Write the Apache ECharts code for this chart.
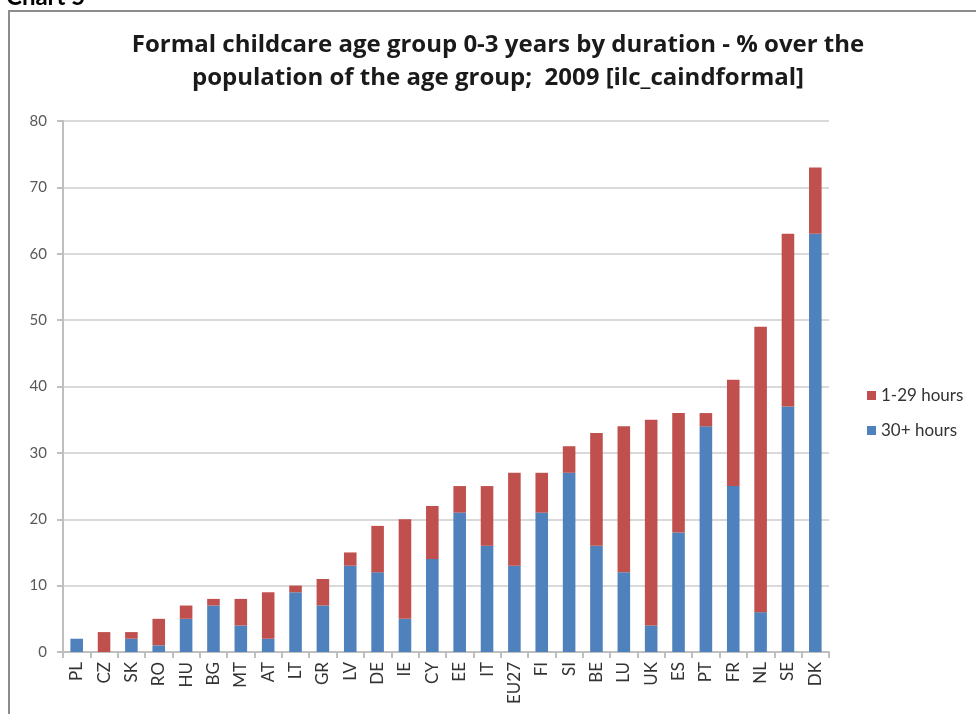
<!DOCTYPE html>
<html><head><meta charset="utf-8">
<script src="https://cdn.jsdelivr.net/npm/echarts@6/dist/echarts.min.js"></script>
<style>html,body{margin:0;padding:0;background:#fff}#c{width:976px;height:714px}</style>
</head><body><div id="c"></div>
<script>
var categories = ['PL','CZ','SK','RO','HU','BG','MT','AT','LT','GR','LV','DE','IE','CY','EE','IT','EU27','FI','SI','BE','LU','UK','ES','PT','FR','NL','SE','DK'];
var hours30plus = [2,0,2,1,5,7,4,2,9,7,13,12,5,14,21,16,13,21,27,16,12,4,18,34,25,6,37,63];
var hours1to29 = [0,3,1,4,2,1,4,7,1,4,2,7,15,8,4,9,14,6,4,17,22,31,18,2,16,43,26,10];
var yTicks = [0,10,20,30,40,50,60,70,80];

var chart = echarts.init(document.getElementById('c'));
var font = 'Lato, "Open Sans", sans-serif';
chart.setOption({
  animation:false,
  graphic:[
    {type:'rect',shape:{x:9,y:11,width:1000,height:760},style:{fill:'none',stroke:'#8c8c8c',lineWidth:2},silent:true},
    {type:'text',x:6,y:-15,style:{text:'Chart 5',font:'bold 24px Lato, sans-serif',fill:'#000'}},
    {type:'text',x:498,y:29,style:{text:'Formal childcare age group 0-3 years by duration - % over the\npopulation of the age group;  2009 [ilc_caindformal]',
      font:'bold 24px "Open Sans", sans-serif',fill:'#1a1a1a',align:'center',lineHeight:33}}
  ],
  legend:{
    orient:'vertical', left:862, top:382, itemWidth:9, itemHeight:9, itemGap:18,
    icon:'rect',
    textStyle:{fontFamily:font,fontSize:17,color:'#333'},
    data:['1-29 hours','30+ hours']
  },
  grid:{left:63,right:147,top:121,bottom:62,containLabel:false},
  xAxis:{
    type:'category', data:categories,
    axisLine:{lineStyle:{color:'#bfbfbf',width:2}},
    axisTick:{show:true,length:6,lineStyle:{color:'#bfbfbf',width:2}},
    axisLabel:{rotate:90,fontFamily:font,fontSize:17,color:'#333',margin:10}
  },
  yAxis:{
    type:'value', min:0, max:80, interval:10,
    axisLine:{show:true,lineStyle:{color:'#bfbfbf',width:2}},
    axisTick:{show:true,length:6,lineStyle:{color:'#bfbfbf',width:2}},
    splitLine:{lineStyle:{color:'#d9d9d9',width:2}},
    axisLabel:{fontFamily:font,fontSize:15,color:'#595959',margin:16}
  },
  series:[
    {name:'30+ hours',type:'bar',stack:'t',data:hours30plus,barWidth:'46%',itemStyle:{color:'#4F81BD'}},
    {name:'1-29 hours',type:'bar',stack:'t',data:hours1to29,barWidth:'46%',itemStyle:{color:'#C0504D'}}
  ]
});
</script></body></html>
